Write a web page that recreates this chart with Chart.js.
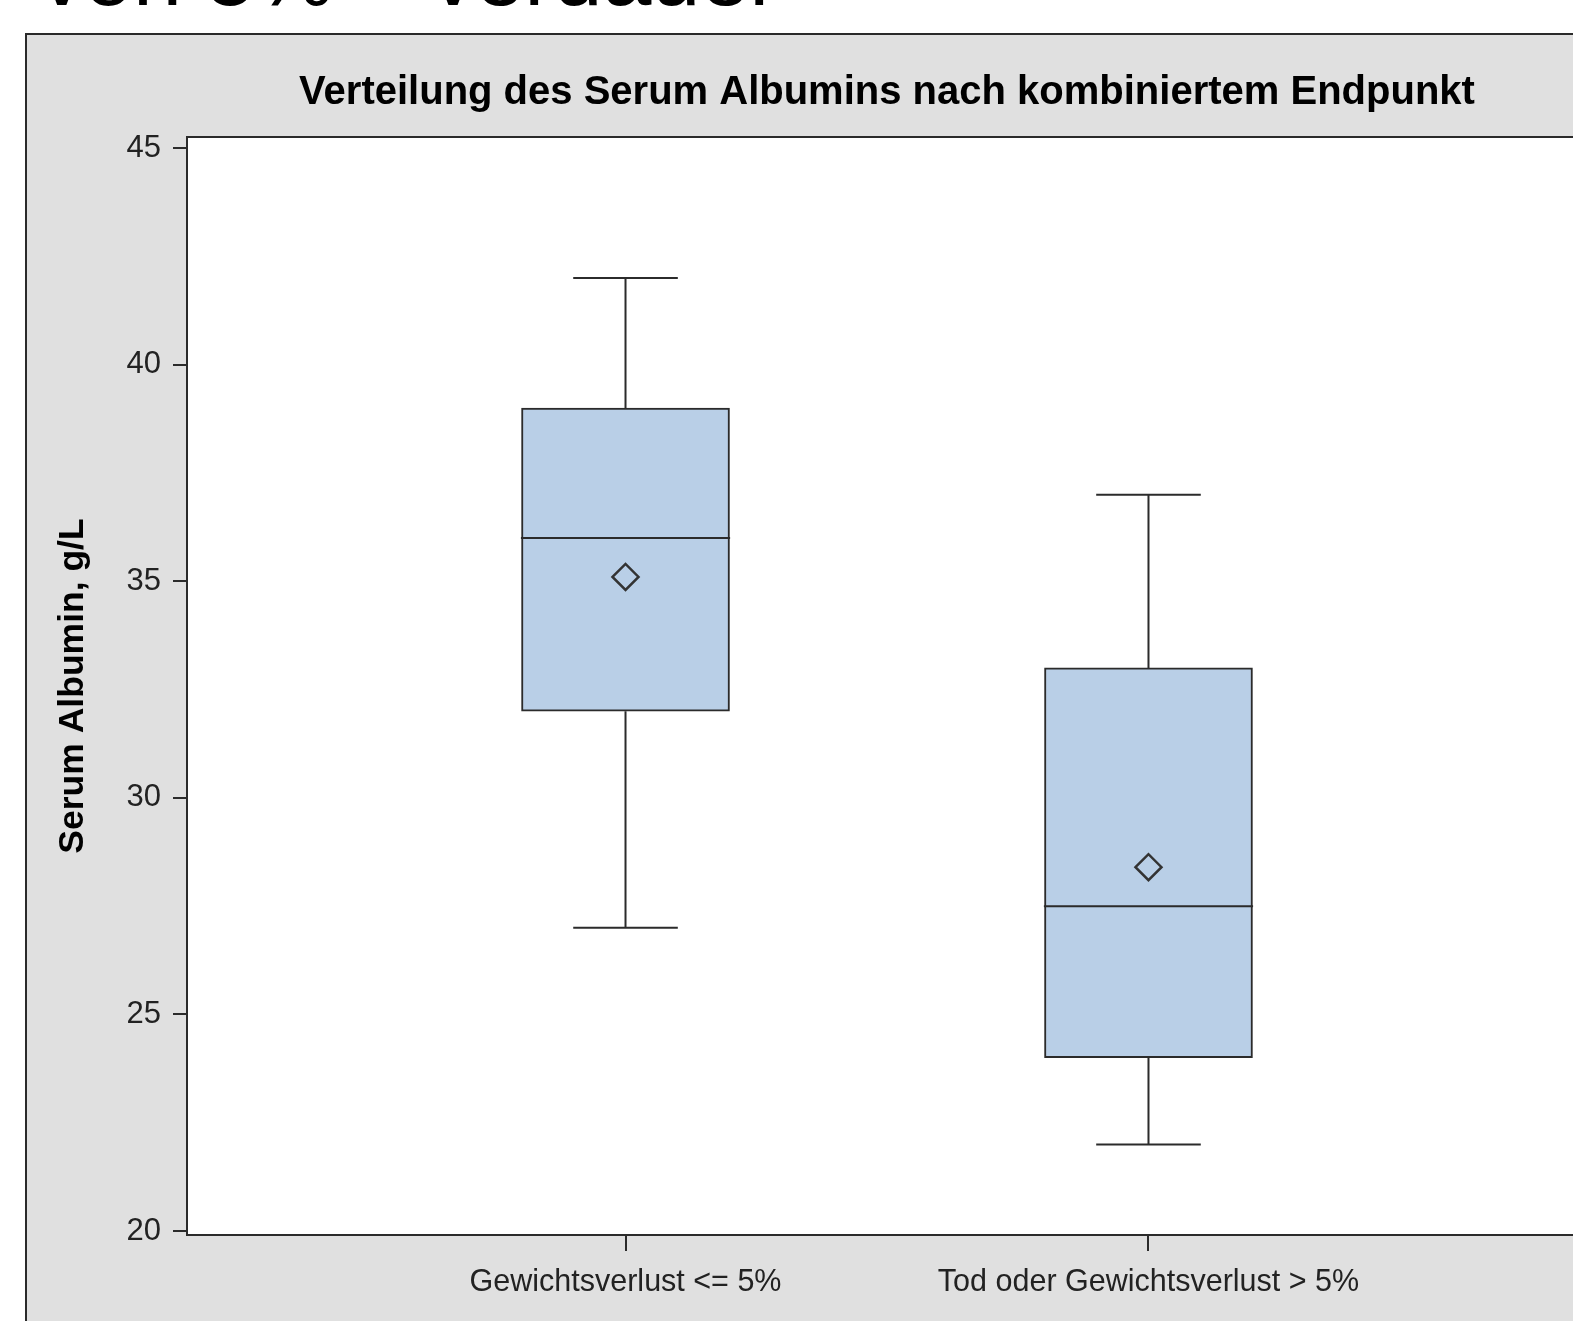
<!DOCTYPE html>
<html>
<head>
<meta charset="utf-8">
<script src="https://cdn.jsdelivr.net/npm/chart.js@4.4.0/dist/chart.umd.min.js"></script>
<style>
html, body { margin: 0; padding: 0; background: #fff; overflow: hidden; width: 1573px; height: 1321px; }
#head { position: absolute; left: 40px; top: -69px; font: 88px/88px 'Liberation Sans', Arial, sans-serif; color: #000; white-space: nowrap; }
#panel { position: absolute; left: 25px; top: 33px; width: 1600px; height: 1340px; background: #e0e0e0; border: 2px solid #2a2a2a; }
#c { position: absolute; left: 0; top: 0; }
</style>
</head>
<body>
<div id="head">von 5% – verdauer</div>
<div id="panel"><canvas id="c" width="1560" height="1286"></canvas></div>
<script>
// box plot values
const categories = ['Gewichtsverlust <= 5%', 'Tod oder Gewichtsverlust > 5%']
const minValues = [27, 22]
const q1Values = [32, 24]
const medianValues = [36, 27.5]
const q3Values = [39, 33]
const maxValues = [42, 37]
const meanValues = [35.1, 28.4]
const yTicks = [20, 25, 30, 35, 40, 45]

const SANS = "'Liberation Sans', Arial, sans-serif"
const CAP = 0.1   // half width of whisker caps, in x units
const HALF_BOX = 0.2

// whiskers + median as broken line segments
var segs = []
categories.forEach(function (c, i) {
    segs.push({x: i, y: q3Values[i]}, {x: i, y: maxValues[i]}, {x: i, y: null})
    segs.push({x: i - CAP, y: maxValues[i]}, {x: i + CAP, y: maxValues[i]}, {x: i, y: null})
    segs.push({x: i, y: q1Values[i]}, {x: i, y: minValues[i]}, {x: i, y: null})
    segs.push({x: i - CAP, y: minValues[i]}, {x: i + CAP, y: minValues[i]}, {x: i, y: null})
    segs.push({x: i - HALF_BOX, y: medianValues[i]}, {x: i + HALF_BOX, y: medianValues[i]}, {x: i, y: null})
})

const plotFrame = {
    id: 'plotFrame',
    beforeDraw(chart) {
        const {ctx, chartArea: a} = chart
        ctx.save()
        ctx.fillStyle = '#fff'
        ctx.fillRect(a.left, a.top, a.width, a.height)
        ctx.restore()
    },
    beforeDatasetsDraw(chart) {
        const {ctx, chartArea: a} = chart
        ctx.save()
        ctx.strokeStyle = '#2b2b2b'
        ctx.lineWidth = 2
        ctx.strokeRect(a.left, a.top, a.width, a.height)
        ctx.restore()
    }
}

new Chart(document.getElementById('c'), {
    type: 'bar',
    data: {
        datasets: [
            {
                type: 'scatter',
                data: meanValues.map((v, i) => ({x: i, y: v})),
                pointStyle: 'rectRot',
                pointRadius: 13,
                pointBorderWidth: 2.5,
                borderColor: '#333',
                backgroundColor: 'rgba(0,0,0,0)'
            },
            {
                type: 'line',
                data: segs,
                borderColor: '#2b2b2b',
                borderWidth: 2,
                pointRadius: 0,
                spanGaps: false,
                fill: false
            },
            {
                type: 'bar',
                data: categories.map((c, i) => ({x: i, y: [q1Values[i], q3Values[i]]})),
                barThickness: 208,
                backgroundColor: '#b9cfe7',
                borderColor: '#2b2b2b',
                borderWidth: 2,
                borderSkipped: false
            }
        ]
    },
    options: {
        responsive: false,
        animation: false,
        devicePixelRatio: 1,
        layout: { padding: 0, autoPadding: false },
        plugins: {
            legend: { display: false },
            tooltip: { enabled: false },
            title: {
                display: true,
                text: 'Verteilung des Serum Albumins nach kombiniertem Endpunkt',
                color: '#000',
                fullSize: false,
                font: { family: SANS, size: 40, weight: 'bold', lineHeight: 1.2 },
                padding: { top: 34, bottom: 20 }
            }
        },
        scales: {
            x: {
                type: 'linear',
                min: -0.8385,
                max: 1.8385,
                offset: false,
                afterBuildTicks: function (scale) {
                    scale.ticks = categories.map((c, i) => ({value: i}))
                },
                afterFit: function (scale) {
                    scale.height = 86
                    scale.paddingLeft = 0
                    scale.paddingRight = 0
                },
                border: { display: false },
                grid: { offset: false, drawOnChartArea: false, tickLength: 16, color: '#2b2b2b', lineWidth: 2 },
                ticks: {
                    autoSkip: false,
                    maxRotation: 0,
                    padding: 13,
                    color: '#222',
                    font: { family: SANS, size: 30.5 },
                    callback: (v) => categories[v]
                }
            },
            y: {
                min: 19.908,
                max: 45.257,
                afterBuildTicks: function (scale) {
                    scale.ticks = yTicks.map(v => ({value: v}))
                },
                afterFit: function (scale) {
                    scale.width = 160
                    scale.paddingTop = 0
                    scale.paddingBottom = 0
                },
                border: { display: false },
                grid: { drawOnChartArea: false, tickLength: 14, color: '#2b2b2b', lineWidth: 2 },
                ticks: {
                    padding: 12,
                    color: '#222',
                    font: { family: SANS, size: 31 }
                },
                title: {
                    display: true,
                    text: 'Serum Albumin, g/L',
                    color: '#000',
                    font: { family: SANS, size: 35.5, weight: 'bold', lineHeight: 1.2 },
                    padding: { top: 24.7, bottom: 0 }
                }
            }
        }
    },
    plugins: [plotFrame]
});
</script>
</body>
</html>
